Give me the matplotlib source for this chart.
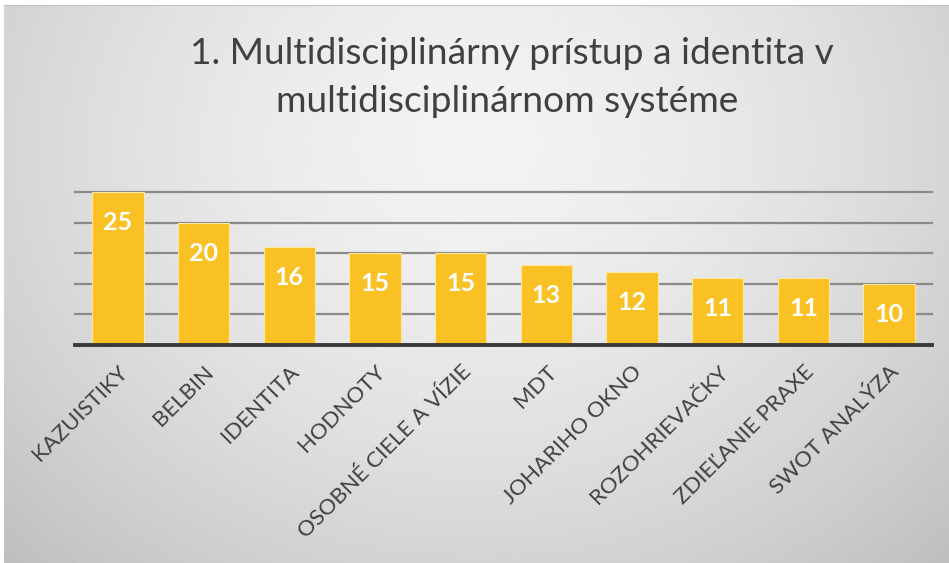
import numpy as np
import matplotlib.pyplot as plt

plt.rcParams['font.family'] = ['Lato', 'DejaVu Sans']

title_lines = ["1. Multidisciplinárny prístup a identita v", "multidisciplinárnom systéme"]
categories = ["KAZUISTIKY", "BELBIN", "IDENTITA", "HODNOTY", "OSOBNÉ CIELE A VÍZIE",
              "MDT", "JOHARIHO OKNO", "ROZOHRIEVAČKY", "ZDIEĽANIE PRAXE", "SWOT ANALÝZA"]
values = [25, 20, 16, 15, 15, 13, 12, 11, 11, 10]

W, H = 949, 563
fig = plt.figure(figsize=(W / 100, H / 100), dpi=100)
fig.patch.set_facecolor('white')

# radial grey background
bg = fig.add_axes([4 / W, 0, 945 / W, 558 / H])
bg.set_axis_off()
yy, xx = np.mgrid[0:1:300j, 0:1:500j]
r = np.sqrt(((xx - 0.5) / 0.62) ** 2 + ((yy - 0.25) / 0.9) ** 2)
shade = 0.95 - 0.16 * np.clip(r, 0, 1.3) ** 1.6
bg.imshow(shade, cmap='gray', vmin=0, vmax=1, aspect='auto', extent=[0, 1, 1, 0])
bg.axhline(0.0, color='#c0c0c0', lw=1.5)

ax = fig.add_axes([75 / W, 1 - 345 / H, (932 - 75) / W, (345 - 192) / H])
ax.set_facecolor('none')
x = np.arange(len(categories))
bars = ax.bar(x, values, width=0.6, color='#FAC125', edgecolor='#FDE6A2', linewidth=0.8, zorder=3)
ax.set_xlim(-0.5, len(categories) - 0.5)
ax.set_ylim(0, 25)
ax.set_yticks([5, 10, 15, 20, 25])
ax.yaxis.grid(True, color='#8a8a8a', lw=1.6, zorder=0)
for gl in ax.get_ygridlines():
    gl.set_clip_on(False)
ax.tick_params(axis='y', length=0, labelleft=False)
ax.tick_params(axis='x', length=0, pad=12)
for s in ['top', 'right', 'left']:
    ax.spines[s].set_visible(False)
ax.spines['bottom'].set_color('#3a3a3a')
ax.spines['bottom'].set_linewidth(2.8)
ax.spines['bottom'].set_zorder(4)

ax.set_xticks(x)
ax.set_xticklabels(categories, rotation=45, ha='right', rotation_mode='anchor',
                   fontsize=16, color='#404040')

for b, v in zip(bars, values):
    ax.annotate(str(v), (b.get_x() + b.get_width() / 2, v), xytext=(0, -22),
                textcoords='offset points', ha='center', va='center',
                fontsize=18, fontweight='bold', color='white', zorder=5)

fig.text(512 / W, 1 - 64 / H, title_lines[0], ha='center', va='baseline',
         fontsize=26.7, color='#404040')
fig.text(507 / W, 1 - 112 / H, title_lines[1], ha='center', va='baseline',
         fontsize=26.7, color='#404040')

fig.savefig('out.png', dpi=100)
